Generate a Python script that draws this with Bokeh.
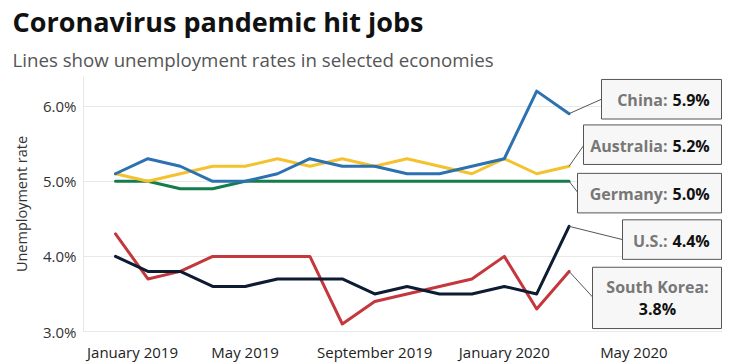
from bokeh.plotting import figure
from bokeh.models import Range1d, FixedTicker, PrintfTickFormatter, Label, BoxAnnotation, Title
from bokeh.embed import file_html
from bokeh.resources import INLINE

# ---- data ----
months = ["Jan 2019", "Feb 2019", "Mar 2019", "Apr 2019", "May 2019", "Jun 2019", "Jul 2019",
          "Aug 2019", "Sep 2019", "Oct 2019", "Nov 2019", "Dec 2019", "Jan 2020", "Feb 2020", "Mar 2020"]
china = [5.1, 5.3, 5.2, 5.0, 5.0, 5.1, 5.3, 5.2, 5.2, 5.1, 5.1, 5.2, 5.3, 6.2, 5.9]
australia = [5.1, 5.0, 5.1, 5.2, 5.2, 5.3, 5.2, 5.3, 5.2, 5.3, 5.2, 5.1, 5.3, 5.1, 5.2]
germany = [5.0, 5.0, 4.9, 4.9, 5.0, 5.0, 5.0, 5.0, 5.0, 5.0, 5.0, 5.0, 5.0, 5.0, 5.0]
us = [4.0, 3.8, 3.8, 3.6, 3.6, 3.7, 3.7, 3.7, 3.5, 3.6, 3.5, 3.5, 3.6, 3.5, 4.4]
south_korea = [4.3, 3.7, 3.8, 4.0, 4.0, 4.0, 4.0, 3.1, 3.4, 3.5, 3.6, 3.7, 4.0, 3.3, 3.8]
x_tick_pos = [0, 4, 8, 12, 16]
x_tick_labels = ["January 2019", "May 2019", "September 2019", "January 2020", "May 2020"]
y_ticks = [3, 4, 5, 6]

x = list(range(len(months)))

FONT = "Open Sans"
W, H = 731, 364
# frame in page pixels (page has no margin in bokeh's template)
FL, FR, FT, FB = 83, 722, 75, 333
PX_PER_MONTH = 32.4
X0_PX = 115
X_START = (FL - X0_PX) / PX_PER_MONTH
X_END = (FR - X0_PX) / PX_PER_MONTH
PX_PER_UNIT = 76.0
Y_START = 3.0
Y_END = Y_START + (FB - FT) / PX_PER_UNIT


def px2x(px):
    return X_START + (px - FL) / PX_PER_MONTH


def py2y(py):
    return Y_START + (FB - py) / PX_PER_UNIT


p = figure(width=W, height=H, output_backend="svg", toolbar_location=None,
           x_range=Range1d(X_START, X_END), y_range=Range1d(Y_START, Y_END),
           min_border_left=FL, min_border_right=W - FR, min_border_top=FT,
           min_border_bottom=H - FB)
p.outline_line_color = None
p.background_fill_color = "white"
p.border_fill_color = "white"

# titles
p.add_layout(Title(text="Lines show unemployment rates in selected economies", align="left",
                   offset=12 - FL, standoff=10, text_font=FONT, text_font_size="18.7px",
                   text_font_style="normal", text_color="#555555"), "above")
p.add_layout(Title(text="Coronavirus pandemic hit jobs", align="left", offset=12 - FL, standoff=0,
                   text_font=FONT, text_font_size="27px", text_font_style="bold",
                   text_color="#111111"), "above")

# x axis
first_shift = 17 / PX_PER_MONTH
ticks = [t + (first_shift if i == 0 else 0) for i, t in enumerate(x_tick_pos)]
xax = p.xaxis[0]
xax.ticker = FixedTicker(ticks=ticks)
xax.major_label_overrides = {t: lab for t, lab in zip(ticks, x_tick_labels)}
xax.axis_line_color = "#e8e8e8"
xax.major_tick_line_color = None
xax.minor_tick_line_color = None
xax.major_tick_out = 0
xax.major_tick_in = 0
xax.minor_tick_out = 0
xax.minor_tick_in = 0
xax.major_label_standoff = 10
xax.major_label_text_font = FONT
xax.major_label_text_font_size = "15px"
xax.major_label_text_color = "#222222"
p.xgrid.visible = False

# y axis
p.ygrid.ticker = FixedTicker(ticks=y_ticks)
p.ygrid.grid_line_color = "#e8e8e8"
p.ygrid.grid_line_width = 1
yax = p.yaxis[0]
yax.ticker = FixedTicker(ticks=y_ticks)
yax.formatter = PrintfTickFormatter(format="%.1f%%")
yax.axis_line_color = "#e8e8e8"
yax.major_tick_line_color = None
yax.minor_tick_line_color = None
yax.major_tick_out = 0
yax.major_tick_in = 0
yax.minor_tick_out = 0
yax.minor_tick_in = 0
yax.major_label_standoff = 7
yax.major_label_text_font = FONT
yax.major_label_text_font_size = "15px"
yax.major_label_text_color = "#333333"
yax.axis_label = "Unemployment rate"
yax.axis_label_text_font = FONT
yax.axis_label_text_font_size = "14.5px"
yax.axis_label_text_font_style = "normal"
yax.axis_label_text_color = "#333333"
yax.axis_label_standoff = 9

series = [
    ("South Korea", south_korea, "#c4373c"),
    ("U.S.", us, "#0d1b33"),
    ("Germany", germany, "#147d4c"),
    ("Australia", australia, "#f4c22e"),
    ("China", china, "#2c72b0"),
]
for name, vals, col in series:
    p.line(x, vals, line_width=3, line_color=col, line_join="round", line_cap="round")

# callouts: name, series, box left/top/bottom (page px), connector end (page px)
last = len(x) - 1
callouts = [
    ("China", china, 601, 78, 118, (601, 98)),
    ("Australia", australia, 583, 124, 164, (583, 145)),
    ("Germany", germany, 577, 173, 213, (577, 192)),
    ("U.S.", us, 622, 220, 260, (622, 240)),
    ("South Korea", south_korea, 592, 268, 330, (592, 298)),
]
SPLIT = 669
LBL = dict(text_font=FONT, text_font_size="16px", text_font_style="bold")
for name, vals, bl, bt, bb, (ex, ey) in callouts:
    p.segment(x0=[last], y0=[vals[-1]], x1=[px2x(ex)], y1=[py2y(ey)], line_color="#555555", line_width=1)
    p.add_layout(BoxAnnotation(left=px2x(bl), right=px2x(FR - 1), top=py2y(bt), bottom=py2y(bb),
                               fill_color="#f7f7f7", fill_alpha=1.0, line_color="#555555",
                               line_width=1, line_alpha=1.0))
    vtxt = f"{vals[-1]:.1f}%"
    if name == "South Korea":
        cx = (bl + FR) / 2
        p.add_layout(Label(x=px2x(cx), y=py2y(288), text=name + ":", text_align="center",
                           text_baseline="middle", text_color="#777777", **LBL))
        p.add_layout(Label(x=px2x(cx), y=py2y(310), text=vtxt, text_align="center",
                           text_baseline="middle", text_color="#111111", **LBL))
    else:
        cy = (bt + bb) / 2 + 1
        p.add_layout(Label(x=px2x(SPLIT - 2), y=py2y(cy), text=name + ":", text_align="right",
                           text_baseline="middle", text_color="#777777", **LBL))
        p.add_layout(Label(x=px2x(SPLIT + 3), y=py2y(cy), text=vtxt, text_align="left",
                           text_baseline="middle", text_color="#111111", **LBL))

open("out.html", "w").write(file_html(p, INLINE))
